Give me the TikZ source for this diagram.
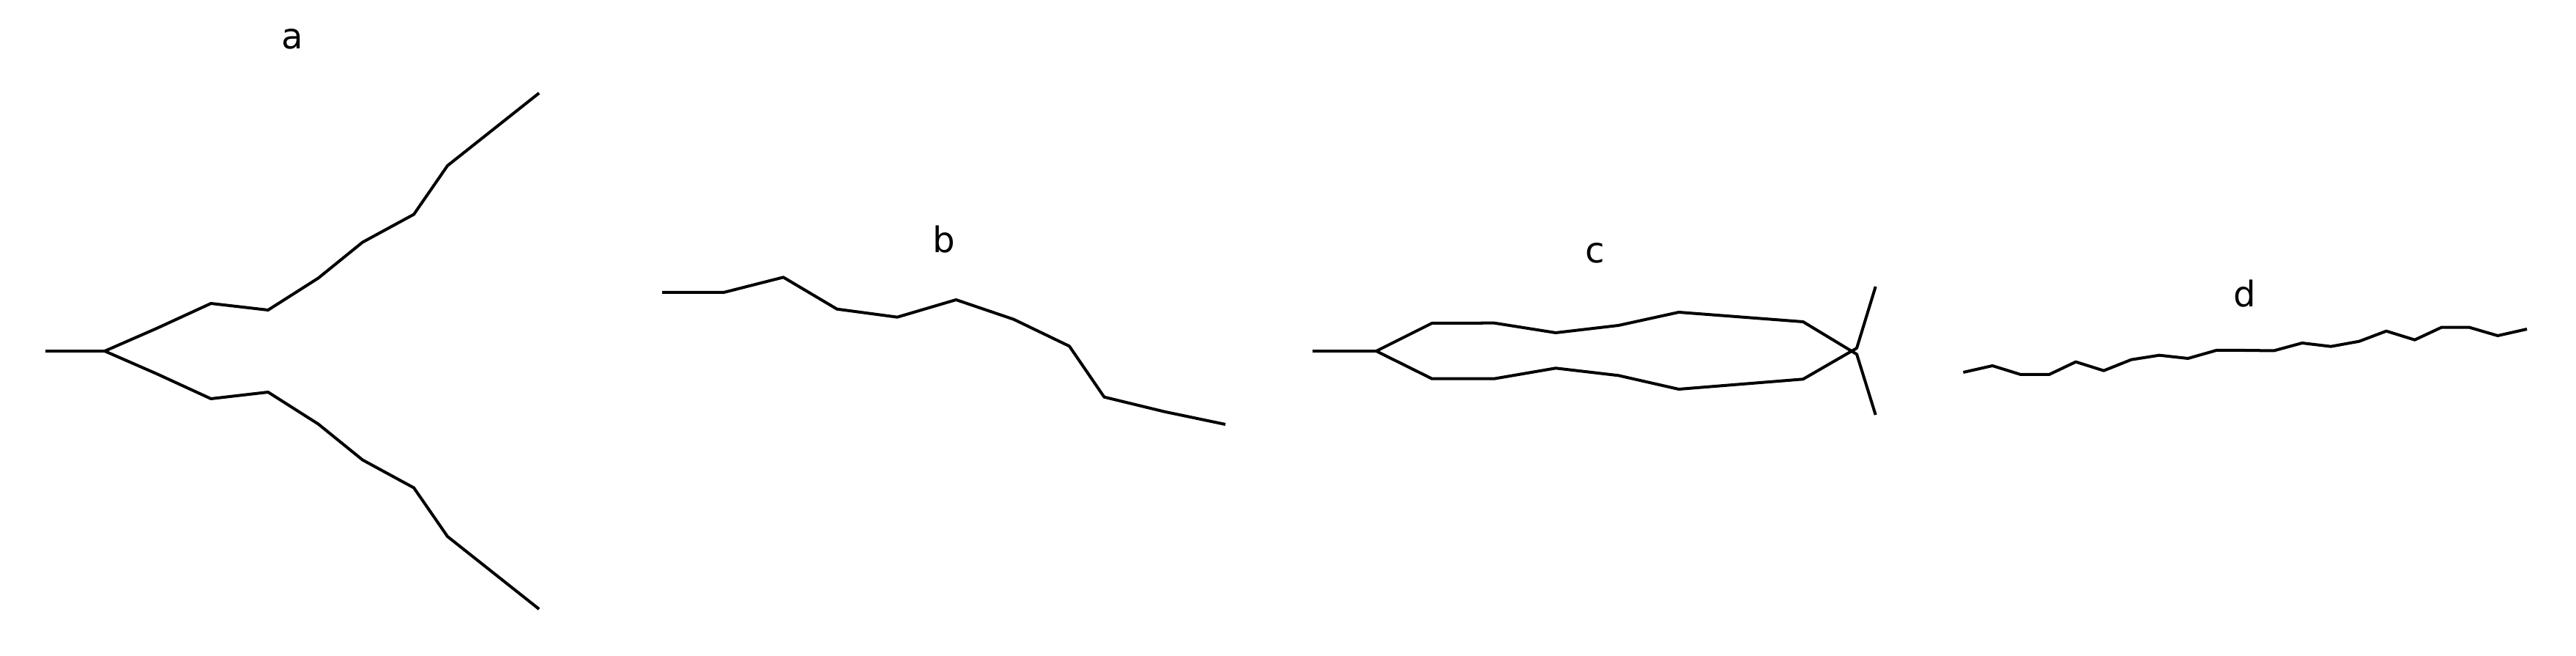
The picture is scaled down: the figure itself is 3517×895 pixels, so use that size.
\documentclass[tikz,border=0pt]{standalone}
\usepackage{fontspec}
\setsansfont{DejaVu Sans}
\begin{document}
\begin{tikzpicture}[x=0.01cm, y=-0.01cm, line width=1.14pt, line join=round,
  lbl/.style={anchor=base, inner sep=0pt, font=\sffamily\fontsize{13.7}{16}\selectfont}]
  \useasboundingbox (0,0) rectangle (3517,895);
  % a
  \node[lbl] (la) at (399,67) {a};
  \draw (62,479) -- (143,479);
  \foreach \s in {1,-1}
    \draw (143,479) -- (214,{479-\s*31}) -- (288,{479-\s*65}) -- (366,{479-\s*56})
      -- (434.5,{479-\s*99.5}) -- (495,{479-\s*148.5}) -- (565,{479-\s*186.5})
      -- (611,{479-\s*253}) -- (736,{479-\s*352});
  % b
  \node[lbl] (lb) at (1289,345) {b};
  \draw (904,399) -- (988,399) -- (1069.5,378.3) -- (1142.7,421.7) -- (1225,432.7)
    -- (1305.3,409) -- (1384,435.7) -- (1460,472.3) -- (1507.5,541.7) -- (1590,561.7)
    -- (1673,579);
  % c
  \node[lbl] (lc) at (2178,359) {c};
  \draw (1792,479) -- (1879,479);
  \draw (1879,479) -- (1955,441) -- (2040,440.7) -- (2124,454) -- (2209.6,444)
    -- (2292,426) -- (2461.7,439) -- (2535,483.3) -- (2560.7,566);
  \draw (1879,479) -- (1955,516.7) -- (2040,516.7) -- (2124,502.3) -- (2209.6,512.3)
    -- (2292,531) -- (2461.7,517.3) -- (2535,475) -- (2560.7,391);
  % d
  \node[lbl] (ld) at (3064.6,419) {d};
  \draw (2680.4,508) -- (2720.2,499) -- (2758.9,511) -- (2797.6,511) -- (2834.1,493.7)
    -- (2872.2,505.7) -- (2909.8,490.7) -- (2948,484.7) -- (2987.2,489) -- (3025.9,478)
    -- (3064.6,478) -- (3104.4,478.5) -- (3143.1,468) -- (3182.3,472.7) -- (3221,465.7)
    -- (3258,451.7) -- (3296.8,463.7) -- (3333.2,446.7) -- (3371.4,446.7) -- (3410.1,458)
    -- (3450,449);
\end{tikzpicture}
\end{document}
